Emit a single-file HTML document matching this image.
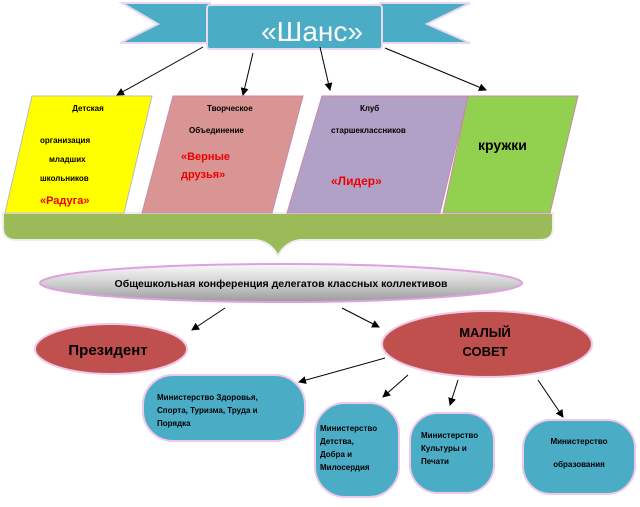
<!DOCTYPE html>
<html><head><meta charset="utf-8"><style>
body{margin:0;background:#fff}
svg text{font-family:"Liberation Sans",sans-serif;font-weight:bold}
</style></head><body>
<svg width="640" height="502" viewBox="0 0 640 502" xmlns="http://www.w3.org/2000/svg">
<defs>
<marker id="a" markerWidth="8" markerHeight="8" refX="7" refY="4" orient="auto" markerUnits="userSpaceOnUse"><path d="M0,0 L8,4 L0,8 Z" fill="#000"/></marker>
<linearGradient id="g" x1="0" y1="0" x2="0" y2="1"><stop offset="0" stop-color="#fafafa"/><stop offset="0.5" stop-color="#d0d0d0"/><stop offset="1" stop-color="#9a9a9a"/></linearGradient>
</defs>
<!-- ribbon -->
<polygon points="122,3 210,3 210,43 120,43 158,24" fill="#4bacc6" stroke="#e8d8f0" stroke-width="2"/>
<polygon points="470,3 380,3 380,43 470,43 427,24" fill="#4bacc6" stroke="#e8d8f0" stroke-width="2"/>
<rect x="207" y="5" width="175" height="44" rx="3" fill="#4bacc6" stroke="#e8d8f0" stroke-width="2"/>
<text x="312" y="41" font-size="28" fill="#fff" text-anchor="middle" style="font-weight:normal">«Шанс»</text>
<!-- brace -->
<path d="M3,213 L553,213 L553,228 Q553,240 540,240 L300,240 Q285,242 278,256 Q271,242 256,240 L16,240 Q3,240 3,228 Z" fill="#9bbb59" stroke="#eee" stroke-width="2"/>
<!-- parallelograms -->
<polygon points="32,96 152,96 124,213 5,213" fill="#ffff00" stroke="#bbb" stroke-width="1"/>
<polygon points="173,96 303,96 272,213 142,213" fill="#d99594" stroke="#c8a" stroke-width="1"/>
<polygon points="322,96 468,96 440,213 287,213" fill="#b2a1c7" stroke="#c8a" stroke-width="1"/>
<polygon points="468,96 578,96 550,213 443,213" fill="#92d050" stroke="#c8a" stroke-width="1"/>
<g font-size="8" fill="#000">
<text x="88" y="111" text-anchor="middle">Детская</text>
<text x="40" y="143">организация</text>
<text x="49" y="162">младших</text>
<text x="40" y="181">школьников</text>
<text x="207" y="111">Творческое</text>
<text x="189" y="133">Объединение</text>
<text x="360" y="111">Клуб</text>
<text x="331" y="133">старшеклассников</text>
</g>
<text x="40" y="204" font-size="11" fill="#e00">«Радуга»</text>
<text x="181" y="160" font-size="11" fill="#e00">«Верные</text>
<text x="181" y="178" font-size="11" fill="#e00">друзья»</text>
<text x="331" y="185" font-size="12" fill="#e00">«Лидер»</text>
<text x="478" y="150" font-size="14" fill="#000">кружки</text>
<!-- conference -->
<ellipse cx="281" cy="283" rx="241" ry="19" fill="url(#g)" stroke="#e0a0e0" stroke-width="2"/>
<text x="281" y="287" font-size="10.5" text-anchor="middle">Общешкольная конференция делегатов классных коллективов</text>
<!-- ellipses -->
<ellipse cx="111" cy="349" rx="76" ry="25" fill="#c0504d" stroke="#f0c8e8" stroke-width="2"/>
<text x="108" y="355" font-size="15" text-anchor="middle">Президент</text>
<ellipse cx="487" cy="344" rx="105" ry="33" fill="#c0504d" stroke="#f0c8e8" stroke-width="2"/>
<text x="485" y="337" font-size="13" text-anchor="middle">МАЛЫЙ</text>
<text x="485" y="356" font-size="13" text-anchor="middle">СОВЕТ</text>
<!-- ministries -->
<g fill="#4bacc6" stroke="#f0c8e8" stroke-width="2">
<rect x="143" y="375" width="162" height="66" rx="30"/>
<rect x="315" y="403" width="84" height="94" rx="30"/>
<rect x="410" y="413" width="84" height="80" rx="28"/>
<rect x="523" y="420" width="112" height="74" rx="28"/>
</g>
<g font-size="8" fill="#000">
<text x="157" y="400">Министерство Здоровья,</text>
<text x="157" y="413">Спорта, Туризма, Труда и</text>
<text x="157" y="426">Порядка</text>
<text x="320" y="431">Министерство</text>
<text x="320" y="444">Детства,</text>
<text x="320" y="457">Добра и</text>
<text x="320" y="470">Милосердия</text>
<text x="421" y="438">Министерство</text>
<text x="421" y="451">Культуры и</text>
<text x="421" y="464">Печати</text>
<text x="579" y="444" text-anchor="middle">Министерство</text>
<text x="579" y="467" text-anchor="middle">образования</text>
</g>
<!-- arrows -->
<g stroke="#000" stroke-width="1" marker-end="url(#a)">
<line x1="203" y1="47" x2="117" y2="95"/>
<line x1="253" y1="53" x2="243" y2="95"/>
<line x1="320" y1="47" x2="330" y2="90"/>
<line x1="385" y1="48" x2="486" y2="90"/>
<line x1="225" y1="308" x2="192" y2="330"/>
<line x1="342" y1="308" x2="379" y2="327"/>
<line x1="385" y1="358" x2="299" y2="382"/>
<line x1="408" y1="375" x2="383" y2="397"/>
<line x1="458" y1="380" x2="450" y2="405"/>
<line x1="538" y1="380" x2="563" y2="417"/>
</g>
</svg>
</body></html>
